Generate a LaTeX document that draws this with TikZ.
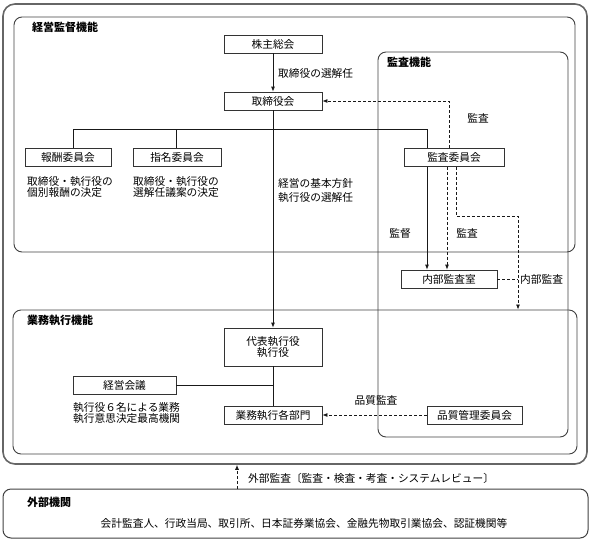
\documentclass[tikz,border=0pt]{standalone}
\usepackage{fontspec}
\setmainfont{Noto Sans CJK JP}
\usetikzlibrary{arrows.meta}
\begin{document}
\begin{tikzpicture}[x=1pt,y=-1pt,
  every node/.style={font=\fontsize{10.7}{11.5}\selectfont, text=black, inner sep=0pt},
  box/.style={draw=black!80, line width=0.8pt, minimum height=18pt, inner sep=0pt},
  region/.style={draw=black!75, line width=0.9pt, rounded corners=8pt, inner sep=0pt},
  outer/.style={draw=black!60, line width=1.6pt, rounded corners=12pt, inner sep=0pt},
  conn/.style={draw=black!90, line width=0.8pt},
  arr/.style={-{Latex[length=5pt,width=4pt]}},
  dsh/.style={dash pattern=on 3pt off 2pt},
  title/.style={font=\fontsize{11}{12}\selectfont\bfseries, anchor=west},
  lbl/.style={anchor=west}
]
\useasboundingbox (0,0) rectangle (592,547);
% regions
\node[outer, minimum width=584pt, minimum height=460pt] (outerbox) at (295,234) {};
\node[region, minimum width=561pt, minimum height=235pt] (kantoku) at (294.5,134.5) {};
\node[region, minimum width=190pt, minimum height=385pt] (kansareg) at (473,244.5) {};
\node[region, minimum width=564pt, minimum height=144pt] (gyomu) at (295,382) {};
\node[region, line width=1pt, minimum width=585pt, minimum height=49pt] (ext) at (295.5,513.5) {};
% titles
\node[title] (s1) at (32,27) {経営監督機能};
\node[title] (s2) at (387,62) {監査機能};
\node[title] (s3) at (27,320) {業務執行機能};
\node[title] (s4) at (27,502) {外部機関};
% boxes
\node[box, minimum width=98pt] (kabu) at (273,44) {株主総会};
\node[box, minimum width=98pt] (tori) at (273,101) {取締役会};
\node[box, minimum width=86pt] (hoshu) at (68,157.5) {報酬委員会};
\node[box, minimum width=88pt] (shimei) at (177,157.5) {指名委員会};
\node[box, minimum width=100pt] (kiinkai) at (454,157.5) {監査委員会};
\node[box, minimum width=96pt] (naibu) at (449,279) {内部監査室};
\node[box, minimum width=98pt, minimum height=38pt, align=center] (daihyo) at (273,347) {代表執行役\\執行役};
\node[box, minimum width=98pt] (bumon) at (273,415) {業務執行各部門};
\node[box, minimum width=103pt] (keiei) at (124.5,385) {経営会議};
\node[box, minimum width=95pt] (hinshitsu) at (474.5,415) {品質管理委員会};
% texts
\node[lbl, align=left] (t1) at (27,187) {取締役・執行役の\\個別報酬の決定};
\node[lbl, align=left] (t2) at (133,187) {取締役・執行役の\\選解任議案の決定};
\node[lbl, align=left, font=\fontsize{10.7}{14}\selectfont] (t3) at (278,191) {経営の基本方針\\執行役の選解任};
\node[lbl, align=left, font=\fontsize{10.7}{11}\selectfont] (t4) at (73,413) {執行役６名による業務\\執行意思決定最高機関};
\node[lbl] (l1) at (278,73) {取締役の選解任};
\node (l2) at (478,118) {監査};
\node (l3) at (400,233) {監督};
\node (l4) at (467,233) {監査};
\node[lbl] (l5) at (520,279) {内部監査};
\node (l6) at (376,400) {品質監査};
\node[lbl] (l7) at (248,478) {外部監査〔監査・検査・考査・システムレビュー〕};
\node (l8) at (304,523) {会計監査人、行政当局、取引所、日本証券業協会、金融先物取引業協会、認証機関等};
% connectors
\draw[conn,arr] (kabu) -- (tori);
\draw[conn,arr] (tori) -- (daihyo);
\coordinate (jL) at (73,129);
\coordinate (jM) at (176,129);
\coordinate (jR) at (427,129);
\draw[conn] (hoshu.north -| jL) -- (jL) -- (jR) -- (kiinkai.north -| jR);
\draw[conn] (jM) -- (shimei.north -| jM);
\draw[conn,arr] (kiinkai.south -| jR) -- (naibu.north -| jR);
\coordinate (dA) at (447,167);
\draw[conn,dsh,arr] (kiinkai.south -| dA) -- (naibu.north -| dA);
\coordinate (dB) at (456,216);
\coordinate (dC) at (518,216);
\draw[conn,dsh,arr] (kiinkai.south -| dB) -- (dB) -- (dC) -- (gyomu.north -| dC);
\coordinate (dE) at (449,101);
\draw[conn,dsh,arr] (kiinkai.north -| dE) -- (dE) -- (tori.east);
\draw[conn,dsh] (naibu.east) -- (naibu.east -| dC);
\draw[conn] (daihyo) -- (bumon);
\draw[conn] (keiei.east) -- (keiei.east -| bumon);
\draw[conn,dsh,arr] (hinshitsu) -- (bumon);
\coordinate (ex) at (237,470);
\draw[conn,dsh,arr] (ext.north -| ex) -- (outerbox.south -| ex);
\end{tikzpicture}
\end{document}
